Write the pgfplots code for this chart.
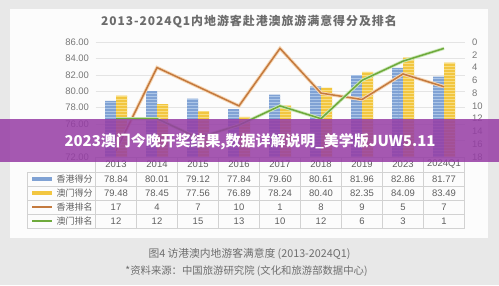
\documentclass[border=0pt]{standalone}
\usepackage{fontspec}
\setmainfont{Liberation Sans}
\newfontfamily\cjk{Noto Sans CJK SC}
\newfontfamily\cjkt[LetterSpace=8]{Noto Sans CJK SC}
\usepackage{pgfplots}
\pgfplotsset{compat=1.18}
\usetikzlibrary{patterns}
\definecolor{bgc}{RGB}{232,232,232}
\definecolor{cardc}{RGB}{252,252,252}
\definecolor{titlec}{RGB}{108,108,108}
\definecolor{tickc}{RGB}{120,120,120}
\definecolor{gridc}{RGB}{228,228,228}
\definecolor{barblue}{RGB}{128,162,212}
\definecolor{stripeblue}{RGB}{172,198,232}
\definecolor{baryellow}{RGB}{242,198,64}
\definecolor{stripeyellow}{RGB}{248,222,130}
\definecolor{hkorange}{RGB}{196,122,62}
\definecolor{hkhalo}{RGB}{246,214,180}
\definecolor{mogreen}{RGB}{110,170,60}
\definecolor{mohalo}{RGB}{205,232,185}
\definecolor{tablec}{RGB}{210,210,210}
\definecolor{textc}{RGB}{95,95,95}
\definecolor{bannerc}{RGB}{150,60,165}
\definecolor{capc}{RGB}{110,110,110}
\begin{document}
\begin{tikzpicture}[x=1bp,y=1bp]
\useasboundingbox (0,0) rectangle (499,285);
\fill[bgc] (0,0) rectangle (499,285);
\fill[cardc] (10,47) rectangle (488,276);
\node[font=\cjkt\bfseries\fontsize{12}{14}\selectfont, text=titlec] at (249,263) {2013-2024Q1内地游客赴港澳旅游满意得分及排名};

\begin{axis}[at={(95.5bp,128bp)}, anchor=south west, scale only axis,
  width=369bp, height=115bp, xmin=-0.5, xmax=8.5, ymin=72, ymax=86,
  ytick={72,74,...,86}, yticklabels={72.00,,76.00,78.00,80.00,82.00,84.00,86.00},
  xtick=\empty, axis line style={draw=none},
  ymajorgrids, grid style={gridc, line width=0.7bp}, major tick length=0pt,
  yticklabel style={font=\fontsize{9.5}{11}\selectfont, text=tickc, xshift=-3bp},
  clip=true]
\addplot[ybar, bar width=11bp, bar shift=-5.5bp, fill=barblue, draw=none,
  postaction={pattern=horizontal lines, pattern color=stripeblue}]
  coordinates {(0,78.84)(1,80.01)(2,79.12)(3,77.84)(4,79.60)(5,80.61)(6,81.96)(7,82.86)(8,81.77)};
\addplot[ybar, bar width=11bp, bar shift=5.5bp, fill=baryellow, draw=none,
  postaction={pattern=horizontal lines, pattern color=stripeyellow}]
  coordinates {(0,79.48)(1,78.45)(2,77.56)(3,76.89)(4,78.24)(5,80.40)(6,82.35)(7,84.09)(8,83.49)};
\end{axis}

\begin{axis}[at={(95.5bp,128bp)}, anchor=south west, scale only axis,
  width=369bp, height=115bp, xmin=-0.5, xmax=8.5, ymin=0, ymax=18, y dir=reverse,
  axis y line*=right, axis x line=none, ytick={0,2,...,18}, xtick=\empty,
  axis line style={draw=none}, major tick length=0pt,
  yticklabel style={font=\fontsize{9.5}{11}\selectfont, text=tickc, anchor=west, xshift=4bp,
    /pgf/number format/assume math mode=true}]
\addplot[hkorange, line width=1.5bp, sharp plot, mark=none,
  preaction={draw=hkhalo, line width=3.4bp}]
  coordinates {(0,17)(1,4)(2,7)(3,10)(4,1)(5,8)(6,9)(7,5)(8,7)};
\addplot[mogreen, line width=1.5bp, sharp plot, mark=none,
  preaction={draw=mohalo, line width=3.2bp}]
  coordinates {(0,12)(1,12)(2,15)(3,13)(4,10)(5,12)(6,6)(7,3)(8,1)};
\end{axis}

% data table
\begin{scope}[tablec, line width=0.6bp]
\draw (95.5,128) -- (464.5,128);
\foreach \y in {113,99,85,71,57} \draw (27,\y) -- (464.5,\y);
\foreach \k in {0,...,9} \draw ({95.5+41*\k},128) -- ({95.5+41*\k},57);
\draw (27,113) -- (27,57);
\end{scope}
\begin{scope}[every node/.style={font=\fontsize{9.5}{11}\selectfont, text=textc, inner sep=0pt}]
\foreach \v [count=\i from 0] in {2013,2014,2015,2016,2017,2018,2019,2023,2024Q1}
  \node at ({116+41*\i},120.5) {\v};
\foreach \v [count=\i from 0] in {78.84,80.01,79.12,77.84,79.60,80.61,81.96,82.86,81.77}
  \node at ({116+41*\i},106) {\v};
\foreach \v [count=\i from 0] in {79.48,78.45,77.56,76.89,78.24,80.40,82.35,84.09,83.49}
  \node at ({116+41*\i},92) {\v};
\foreach \v [count=\i from 0] in {17,4,7,10,1,8,9,5,7}
  \node at ({116+41*\i},78) {\v};
\foreach \v [count=\i from 0] in {12,12,15,13,10,12,6,3,1}
  \node at ({116+41*\i},64) {\v};
\end{scope}
\fill[barblue] (32,104) rectangle (52,108);
\fill[baryellow] (32,90) rectangle (52,94);
\fill[hkorange] (32,77) rectangle (52,79);
\fill[mogreen] (32,63) rectangle (52,65);
\begin{scope}[every node/.style={font=\cjk\fontsize{9}{10}\selectfont, text=textc, anchor=west, inner sep=0pt}]
\node at (56.5,106) {香港得分};
\node at (56.5,92) {澳门得分};
\node at (56.5,78) {香港排名};
\node at (56.5,64) {澳门排名};
\end{scope}

% banner
\fill[bannerc, opacity=0.85] (0,123) rectangle (499,166);
\node[font=\cjk\bfseries\fontsize{15}{17}\selectfont, text=white] at (250,143.5) {2023澳门今晚开奖结果,数据详解说明\_美学版JUW5.11};

% caption
\node[font=\cjk\fontsize{10.8}{12}\selectfont, text=capc] at (249.5,31) {图4 访港澳内地游客满意度 (2013-2024Q1)};
\node[font=\cjk\fontsize{10.4}{12}\selectfont, text=capc] at (246.5,14) {*资料来源：中国旅游研究院 (文化和旅游部数据中心)};
\end{tikzpicture}
\end{document}
